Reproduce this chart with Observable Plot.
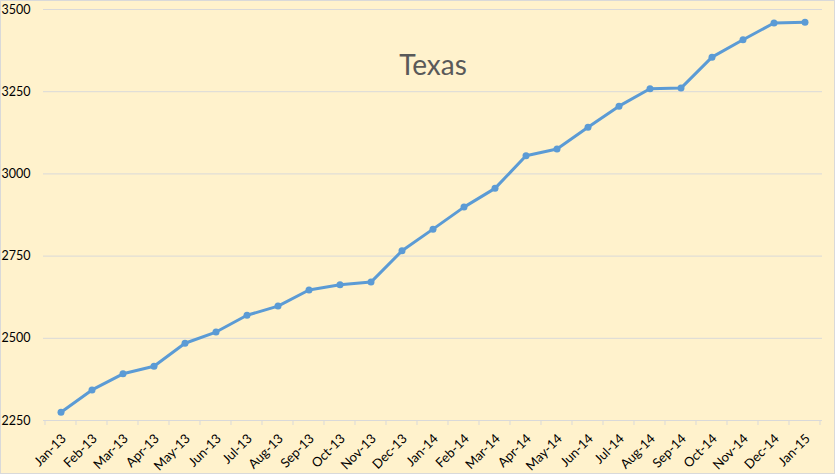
<!DOCTYPE html>
<html><head><meta charset="utf-8">
<script src="https://cdn.jsdelivr.net/npm/d3@7"></script>
<script src="https://cdn.jsdelivr.net/npm/@observablehq/plot@0.6"></script>
<style>body{margin:0;background:#fff} svg{outline:1px solid #D9D9D9;outline-offset:-1px}</style>
</head><body><div id="chart"></div>
<script>
const title = "Texas";
const months = ["Jan-13","Feb-13","Mar-13","Apr-13","May-13","Jun-13","Jul-13","Aug-13","Sep-13","Oct-13","Nov-13","Dec-13",
  "Jan-14","Feb-14","Mar-14","Apr-14","May-14","Jun-14","Jul-14","Aug-14","Sep-14","Oct-14","Nov-14","Dec-14","Jan-15"];
const values = [2275,2343,2392,2415,2485,2519,2570,2598,2647,2663,2671,2766,
  2832,2899,2956,3055,3076,3142,3206,3259,3261,3355,3408,3459,3461];
const yTicks = [2250,2500,2750,3000,3250,3500];

const data = months.map((m, i) => ({month: m, value: values[i]}));

const boundaryTicks = (index, scales, vals, dims) => {
  const g = document.createElementNS("http://www.w3.org/2000/svg", "g");
  const bw = scales.x(months[1]) - scales.x(months[0]);
  const xs = months.map(m => scales.x(m)).concat([scales.x(months[months.length - 1]) + bw]);
  const y0 = scales.y(yTicks[0]);
  for (const x of xs) {
    const l = document.createElementNS("http://www.w3.org/2000/svg", "line");
    l.setAttribute("x1", x); l.setAttribute("x2", x);
    l.setAttribute("y1", y0); l.setAttribute("y2", y0 + 5);
    l.setAttribute("stroke", "#D9D9D9");
    g.appendChild(l);
  }
  return g;
};

const plot = Plot.plot({
  width: 835, height: 474,
  marginLeft: 43, marginRight: 13, marginTop: 9, marginBottom: 54,
  style: {background: "#FFF2CC", fontFamily: "Lato, sans-serif", color: "#000", overflow: "visible"},
  x: {type: "band", domain: months, padding: 0, label: null},
  y: {domain: [2250, 3500], label: null},
  marks: [
    Plot.gridY(yTicks, {stroke: "#D9D9D9", strokeOpacity: 1}),
    boundaryTicks,
    Plot.axisY(yTicks, {tickSize: 0, tickPadding: 13, tickFormat: "d", fontSize: 12.5, fill: "#000", label: null}),
    Plot.axisX({tickSize: 0, tickRotate: -45, tickPadding: 16, dx: 3, fontSize: 13, fill: "#000", label: null}),
    Plot.line(data, {x: "month", y: "value", stroke: "#5B9BD5", strokeWidth: 3}),
    Plot.dot(data, {x: "month", y: "value", fill: "#5B9BD5", r: 3.5}),
    Plot.text([title], {frameAnchor: "top", dy: 46, fontSize: 28, fill: "#595959"})
  ]
});
document.getElementById("chart").appendChild(plot);
</script>
</body></html>
